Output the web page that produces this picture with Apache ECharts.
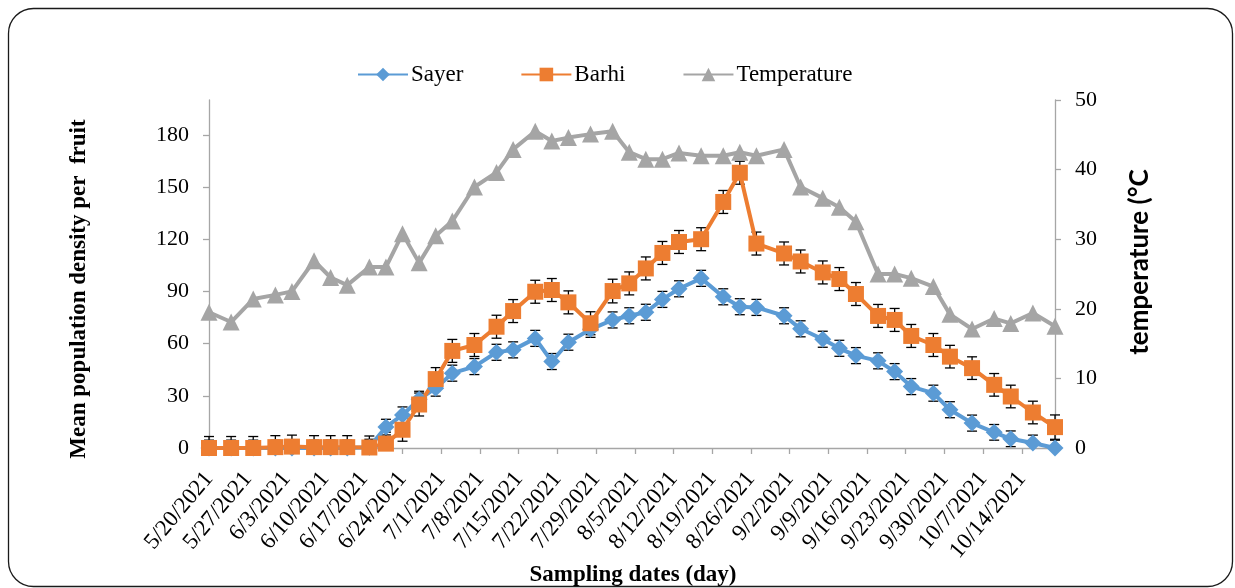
<!DOCTYPE html>
<html><head><meta charset="utf-8">
<script src="https://cdn.jsdelivr.net/npm/echarts@6/dist/echarts.min.js"></script>
<style>html,body{margin:0;padding:0;background:#fff}#c{width:1235px;height:588px}</style>
</head><body><div id="c"></div>
<script>
const sampleDates = ['5/20/2021','5/24/2021','5/28/2021','6/1/2021','6/4/2021','6/8/2021','6/11/2021','6/14/2021','6/18/2021','6/21/2021','6/24/2021','6/27/2021','6/30/2021','7/3/2021','7/7/2021','7/11/2021','7/14/2021','7/18/2021','7/21/2021','7/24/2021','7/28/2021','8/1/2021','8/4/2021','8/7/2021','8/10/2021','8/13/2021','8/17/2021','8/21/2021','8/24/2021','8/27/2021','9/1/2021','9/4/2021','9/8/2021','9/11/2021','9/14/2021','9/18/2021','9/21/2021','9/24/2021','9/28/2021','10/1/2021','10/5/2021','10/9/2021','10/12/2021','10/16/2021','10/20/2021'];
const sayer = [0,0,0,0,0,0,0,0,0.5,12,19,28,34.4,43,46.8,55,56.4,63,49.7,60.8,68.2,73.6,76,78,85.4,91.5,97.5,86.9,81.2,80.8,76,68.5,62.5,57.3,53.1,50.1,43.9,35.3,31.5,22,14.3,9,5.3,2.9,0];
const sayerErr = [4.5,4.5,4.5,4.5,4.5,4.5,4.5,4.5,4.5,4.5,4.6,4.6,4.6,4.6,4.6,4.6,4.6,4.6,4.6,4.6,4.6,4.6,4.6,4.6,4.6,4.6,4.6,4.6,4.6,4.6,4.6,4.6,4.6,4.6,4.6,4.6,4.6,4.6,4.6,4.6,4.6,4.5,4.5,4.5,4.5];
const barhi = [0,0,0,0.5,0.8,0.5,0.5,0.5,0.3,2.5,10.5,25,39.6,55.8,59.2,69.7,78.7,89.8,90.8,83.7,71.7,90.2,94.6,103.2,112.1,118.4,120,141.4,158.2,117.5,111.8,107.2,100.9,97.1,88.5,75.9,73.6,64.4,59.2,52.5,45.9,36.3,29.6,20.4,12];
const barhiErr = [6.6,6.6,6.6,6.6,6.6,6.6,6.6,6.6,6.6,6.6,6.6,6.6,6.6,6.6,6.6,6.6,6.6,6.6,6.6,6.6,6.6,6.8,6.6,6.6,6.6,6.6,6.6,6.6,6.6,6.6,6.6,6.6,6.6,6.6,6.6,6.6,6.6,6.6,6.6,6.5,6.5,6.5,6.5,6.5,7];
const temperature = [19.5,18.1,21.4,22.0,22.5,26.9,24.5,23.4,26.0,26.0,30.8,26.6,30.5,32.6,37.5,39.6,42.9,45.5,44.1,44.6,45.1,45.5,42.5,41.5,41.5,42.4,42.0,42.0,42.5,42.0,42.9,37.5,35.9,34.6,32.5,25.0,25.0,24.4,23.2,19.2,17.1,18.6,17.9,19.4,17.5];
const xTickLabels = ['5/20/2021','5/27/2021','6/3/2021','6/10/2021','6/17/2021','6/24/2021','7/1/2021','7/8/2021','7/15/2021','7/22/2021','7/29/2021','8/5/2021','8/12/2021','8/19/2021','8/26/2021','9/2/2021','9/9/2021','9/16/2021','9/23/2021','9/30/2021','10/7/2021','10/14/2021'];
const leftTicks = [0,30,60,90,120,150,180];
const rightTicks = [0,10,20,30,40,50];

const DAY = 86400000;
function dayOffset(s){const p=s.split('/').map(Number);return Math.round((Date.UTC(p[2],p[0]-1,p[1])-Date.UTC(2021,4,20))/DAY);}
const xs = sampleDates.map(dayOffset);
const xTickVals = xTickLabels.map(dayOffset);
const labelMap = {}; xTickVals.forEach((v,i)=>{labelMap[v]=xTickLabels[i];});
const xMax = Math.max.apply(null, xs);

const serif = '"Liberation Serif","Times New Roman",serif';
const axisCol = '#A6A6A6';

function errRender(params, api){
  const x = api.value(0), y = api.value(1), e = api.value(2);
  const top = api.coord([x, y+e]);
  const lo = Math.max(y-e, 0);
  const bot = api.coord([x, lo]);
  const hw = 5;
  const style = {stroke:'#000', lineWidth:1.3};
  const ch = [
    {type:'line', shape:{x1:top[0],y1:top[1],x2:bot[0],y2:bot[1]}, style:style},
    {type:'line', shape:{x1:top[0]-hw,y1:top[1],x2:top[0]+hw,y2:top[1]}, style:style}
  ];
  if (y-e >= 0) ch.push({type:'line', shape:{x1:bot[0]-hw,y1:bot[1],x2:bot[0]+hw,y2:bot[1]}, style:style});
  return {type:'group', children:ch};
}

const chart = echarts.init(document.getElementById('c'), null, {renderer:'canvas'});
chart.setOption({
  animation:false,
  backgroundColor:'#fff',
  grid:{left:209, right:180, top:100, bottom:140, containLabel:false},
  legend:{
    data:['Sayer','Barhi','Temperature'],
    left:352, top:58, itemWidth:50, itemHeight:17, itemGap:57,
    textStyle:{fontFamily:serif, fontSize:23, color:'#000', padding:[0,0,0,-2]}
  },
  xAxis:{
    type:'value', min:0, max:xMax, interval:7,
    axisLine:{show:true, lineStyle:{color:axisCol, width:1.3}},
    axisTick:{show:true, length:6, customValues:xTickVals, lineStyle:{color:axisCol, width:1.3}},
    splitLine:{show:false},
    axisLabel:{rotate:50, margin:27, fontFamily:serif, fontSize:23, color:'#000', customValues:xTickVals,
      formatter:function(v){return labelMap[v]||'';}}
  },
  yAxis:[
    {type:'value', min:0, max:200, interval:30, position:'left',
     axisLine:{show:true, lineStyle:{color:axisCol, width:1.3}},
     axisTick:{show:true, length:6, customValues:leftTicks, lineStyle:{color:axisCol, width:1.3}},
     splitLine:{show:false},
     axisLabel:{margin:20, fontFamily:serif, fontSize:22, color:'#000', customValues:leftTicks}},
    {type:'value', min:0, max:50, interval:10, position:'right',
     axisLine:{show:true, lineStyle:{color:axisCol, width:1.3}},
     axisTick:{show:true, length:6, customValues:rightTicks, lineStyle:{color:axisCol, width:1.3}},
     splitLine:{show:false},
     axisLabel:{margin:20, fontFamily:serif, fontSize:22, color:'#000', customValues:rightTicks}}
  ],
  series:[
    {name:'Sayer err', type:'custom', yAxisIndex:0, renderItem:errRender, encode:{x:0,y:1},
     data:xs.map((x,i)=>[x, sayer[i], sayerErr[i]]), silent:true},
    {name:'Sayer', type:'line', yAxisIndex:0, data:xs.map((x,i)=>[x, sayer[i]]),
     symbol:'diamond', symbolSize:17, showAllSymbol:true,
     itemStyle:{color:'#5B9BD5'}, lineStyle:{color:'#5B9BD5', width:4}},
    {name:'Barhi err', type:'custom', yAxisIndex:0, renderItem:errRender, encode:{x:0,y:1},
     data:xs.map((x,i)=>[x, barhi[i], barhiErr[i]]), silent:true},
    {name:'Barhi', type:'line', yAxisIndex:0, data:xs.map((x,i)=>[x, barhi[i]]),
     symbol:'rect', symbolSize:16, showAllSymbol:true,
     itemStyle:{color:'#ED7D31'}, lineStyle:{color:'#ED7D31', width:4}},
    {name:'Temperature', type:'line', yAxisIndex:1, data:xs.map((x,i)=>[x, temperature[i]]),
     symbol:'triangle', symbolSize:17, showAllSymbol:true,
     itemStyle:{color:'#A5A5A5'}, lineStyle:{color:'#A5A5A5', width:4}}
  ],
  graphic:[
    {type:'rect', shape:{x:8.5, y:8.5, width:1224, height:578, r:25}, style:{fill:'none', stroke:'#1a1a1a', lineWidth:1.3}, z:-1, silent:true},
    {type:'text', x:79, y:289, rotation:Math.PI/2,
     style:{text:'Mean population density per  fruit', fontFamily:serif, fontWeight:'bold', fontSize:23, fill:'#000', align:'center', verticalAlign:'middle'}},
    {type:'text', x:1140, y:262, rotation:Math.PI/2,
     style:{text:'temperature (°C', fontFamily:'Lato, "Open Sans", sans-serif', fontWeight:'bold', fontSize:26, fill:'#000', align:'center', verticalAlign:'middle'}},
    {type:'text', x:633, y:575,
     style:{text:'Sampling dates (day)', fontFamily:serif, fontWeight:'bold', fontSize:23, fill:'#000', align:'center', verticalAlign:'middle'}}
  ]
});
</script></body></html>
